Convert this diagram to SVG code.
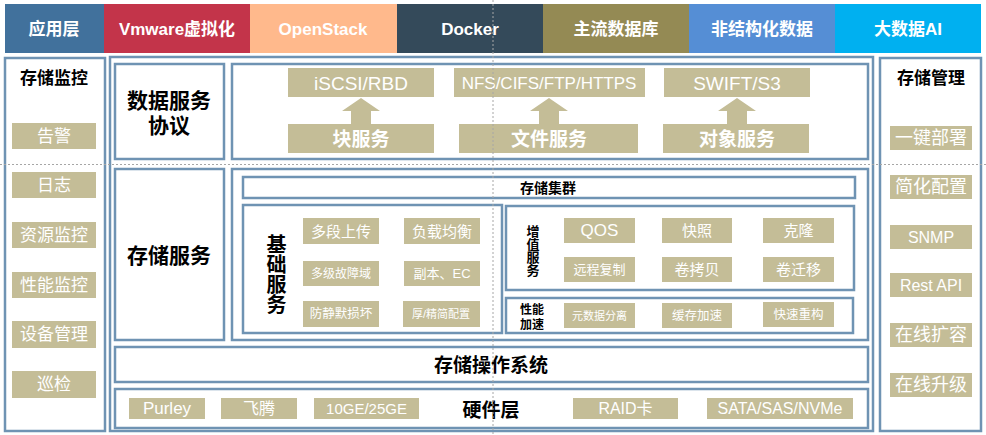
<svg xmlns="http://www.w3.org/2000/svg" width="986" height="435" viewBox="0 0 986 435">
<style>
text{font-family:"Liberation Sans","Noto Sans CJK SC",sans-serif;dominant-baseline:central;text-anchor:middle}
.hd{fill:#fff;font-weight:bold;font-size:17px}
.box{fill:#fff;stroke:#6F93B3;stroke-width:2.5}
.it{fill:#C4BD97}
.iw{fill:#fff}
.bk{fill:#000;font-weight:bold}
.vt{writing-mode:vertical-rl}
.guide{stroke:#A6A6A6;stroke-width:1;stroke-dasharray:2 2;fill:none}
</style>
<rect width="986" height="435" fill="#fff"/>

<g id="top-bar">
<rect x="5" y="4" width="99" height="49" fill="#41719C"/>
<rect x="104" y="4" width="146" height="49" fill="#C3344A"/>
<rect x="250" y="4" width="147" height="49" fill="#FFB98C"/>
<rect x="397" y="4" width="146" height="49" fill="#344A5A"/>
<rect x="543" y="4" width="146" height="49" fill="#948A54"/>
<rect x="689" y="4" width="146" height="49" fill="#558ED5"/>
<rect x="835" y="4" width="146" height="49" fill="#00B0F0"/>
<text class="hd" x="54" y="29">应用层</text>
<text class="hd" x="177" y="29">Vmware虚拟化</text>
<text class="hd" x="323" y="29">OpenStack</text>
<text class="hd" x="470" y="29">Docker</text>
<text class="hd" x="616" y="29">主流数据库</text>
<text class="hd" x="762" y="29">非结构化数据</text>
<text class="hd" x="908" y="29">大数据AI</text>
</g>

<g id="monitor">
<rect class="box" x="5" y="58" width="100" height="373"/>
<text class="bk" x="54" y="78" font-size="17">存储监控</text>
<g font-size="17">
<rect class="it" x="12" y="123" width="84" height="26"/><text class="iw" x="54" y="136">告警</text>
<rect class="it" x="12" y="172" width="84" height="26"/><text class="iw" x="54" y="185">日志</text>
<rect class="it" x="12" y="222" width="84" height="26"/><text class="iw" x="54" y="235">资源监控</text>
<rect class="it" x="12" y="272" width="84" height="26"/><text class="iw" x="54" y="285">性能监控</text>
<rect class="it" x="12" y="321" width="84" height="27"/><text class="iw" x="54" y="334">设备管理</text>
<rect class="it" x="12" y="371" width="84" height="27"/><text class="iw" x="54" y="384">巡检</text>
</g>
</g>

<g id="management">
<rect class="box" x="880" y="58" width="101" height="373"/>
<text class="bk" x="931" y="78" font-size="17">存储管理</text>
<g font-size="17">
<rect class="it" x="890" y="126" width="82" height="24"/><text class="iw" x="931" y="138" font-size="18">一键部署</text>
<rect class="it" x="890" y="175" width="82" height="24"/><text class="iw" x="931" y="187" font-size="18">简化配置</text>
<rect class="it" x="890" y="225" width="82" height="24"/><text class="iw" x="931" y="237" font-size="16">SNMP</text>
<rect class="it" x="890" y="273" width="82" height="24"/><text class="iw" x="931" y="285" font-size="16">Rest API</text>
<rect class="it" x="890" y="323" width="82" height="24"/><text class="iw" x="931" y="335" font-size="18">在线扩容</text>
<rect class="it" x="890" y="373" width="82" height="24"/><text class="iw" x="931" y="385" font-size="18">在线升级</text>
</g>
</g>

<g id="center-frame">
<rect class="box" x="110" y="57" width="763" height="374"/>
</g>

<g id="protocol">
<rect class="box" x="115" y="64" width="109" height="95"/>
<text class="bk" x="169" y="100" font-size="21">数据服务</text>
<text class="bk" x="169" y="125" font-size="21">协议</text>
<rect class="box" x="232" y="64" width="636" height="95"/>
<rect class="it" x="288" y="68" width="146" height="29"/>
<text class="iw" x="361" y="83" font-size="19">iSCSI/RBD</text>
<rect class="it" x="454" y="68" width="191" height="29"/>
<text class="iw" x="549" y="83" font-size="17">NFS/CIFS/FTP/HTTPS</text>
<rect class="it" x="664" y="68" width="146" height="29"/>
<text class="iw" x="737" y="83" font-size="19">SWIFT/S3</text>
<g class="it">
<polygon points="361,98 380,111 371,111 371,124 351,124 351,111 342,111"/>
<polygon points="549,98 568,111 559,111 559,124 539,124 539,111 530,111"/>
<polygon points="737,98 756,111 747,111 747,124 727,124 727,111 718,111"/>
</g>
<rect class="it" x="288" y="124" width="146" height="29"/>
<text class="iw" x="361" y="139" font-size="19" font-weight="bold">块服务</text>
<rect class="it" x="459" y="124" width="179" height="29"/>
<text class="iw" x="549" y="139" font-size="19" font-weight="bold">文件服务</text>
<rect class="it" x="663" y="124" width="146" height="29"/>
<text class="iw" x="737" y="139" font-size="19" font-weight="bold">对象服务</text>
</g>

<g id="storage-service">
<rect class="box" x="115" y="169" width="109" height="171"/>
<text class="bk" x="169" y="255" font-size="21">存储服务</text>
<rect class="box" x="232" y="169" width="636" height="171"/>
<rect class="box" x="243" y="177" width="612" height="21"/>
<text class="bk" x="548" y="187.5" font-size="14">存储集群</text>
</g>

<g id="basic-service">
<rect class="box" x="243" y="205" width="259" height="128"/>
<text class="bk vt" x="275" y="274" font-size="20">基础服务</text>
<rect class="it" x="303" y="218" width="76" height="26"/><text class="iw" x="341" y="231" font-size="15">多段上传</text>
<rect class="it" x="404" y="218" width="76" height="26"/><text class="iw" x="442" y="231" font-size="15">负载均衡</text>
<rect class="it" x="303" y="261" width="76" height="25"/><text class="iw" x="341" y="273.5" font-size="12">多级故障域</text>
<rect class="it" x="404" y="261" width="76" height="25"/><text class="iw" x="442" y="273.5" font-size="13">副本、EC</text>
<rect class="it" x="303" y="301" width="76" height="26"/><text class="iw" x="341" y="314" font-size="12.5">防静默损坏</text>
<rect class="it" x="403" y="301" width="77" height="26"/><text class="iw" x="441" y="314" font-size="11">厚/精简配置</text>
</g>

<g id="value-service">
<rect class="box" x="506" y="206" width="348" height="84"/>
<text class="bk vt" x="532" y="251" font-size="13">增值服务</text>
<rect class="it" x="564" y="218" width="71" height="25"/><text class="iw" x="599.5" y="230.5" font-size="17">QOS</text>
<rect class="it" x="662" y="218" width="70" height="25"/><text class="iw" x="697" y="230.5" font-size="15">快照</text>
<rect class="it" x="763" y="218" width="71" height="25"/><text class="iw" x="798.5" y="230.5" font-size="15">克隆</text>
<rect class="it" x="564" y="257" width="71" height="25"/><text class="iw" x="599.5" y="269.5" font-size="13">远程复制</text>
<rect class="it" x="662" y="257" width="70" height="25"/><text class="iw" x="697" y="269.5" font-size="15">卷拷贝</text>
<rect class="it" x="763" y="257" width="71" height="25"/><text class="iw" x="798.5" y="269.5" font-size="15">卷迁移</text>
</g>

<g id="perf-accel">
<rect class="box" x="506" y="298" width="347" height="35"/>
<text class="bk" x="532" y="309.5" font-size="12">性能</text>
<text class="bk" x="532" y="324.5" font-size="12">加速</text>
<rect class="it" x="564" y="303" width="71" height="25"/><text class="iw" x="599.5" y="315.5" font-size="11">元数据分离</text>
<rect class="it" x="662" y="303" width="70" height="25"/><text class="iw" x="697" y="315.5" font-size="12.5">缓存加速</text>
<rect class="it" x="763" y="302" width="71" height="25"/><text class="iw" x="798.5" y="314.5" font-size="12.5">快速重构</text>
</g>

<g id="os">
<rect class="box" x="115" y="347" width="753" height="35"/>
<text class="bk" x="491" y="365" font-size="19">存储操作系统</text>
</g>

<g id="hardware">
<rect class="box" x="115" y="389" width="753" height="39"/>
<text class="bk" x="491" y="410" font-size="19">硬件层</text>
<rect class="it" x="129" y="398" width="76" height="21"/><text class="iw" x="167" y="408.5" font-size="17">Purley</text>
<rect class="it" x="221" y="398" width="76" height="21"/><text class="iw" x="259" y="408.5" font-size="16">飞腾</text>
<rect class="it" x="314" y="398" width="105" height="21"/><text class="iw" x="366.5" y="408.5" font-size="15">10GE/25GE</text>
<rect class="it" x="573" y="398" width="105" height="21"/><text class="iw" x="625.5" y="408.5" font-size="16">RAID卡</text>
<rect class="it" x="707" y="398" width="146" height="21"/><text class="iw" x="780" y="408.5" font-size="16">SATA/SAS/NVMe</text>
</g>

<g id="guides">
<line class="guide" x1="493" y1="0" x2="493" y2="435"/>
<line class="guide" x1="0" y1="164.5" x2="986" y2="164.5"/>
</g>
</svg>
